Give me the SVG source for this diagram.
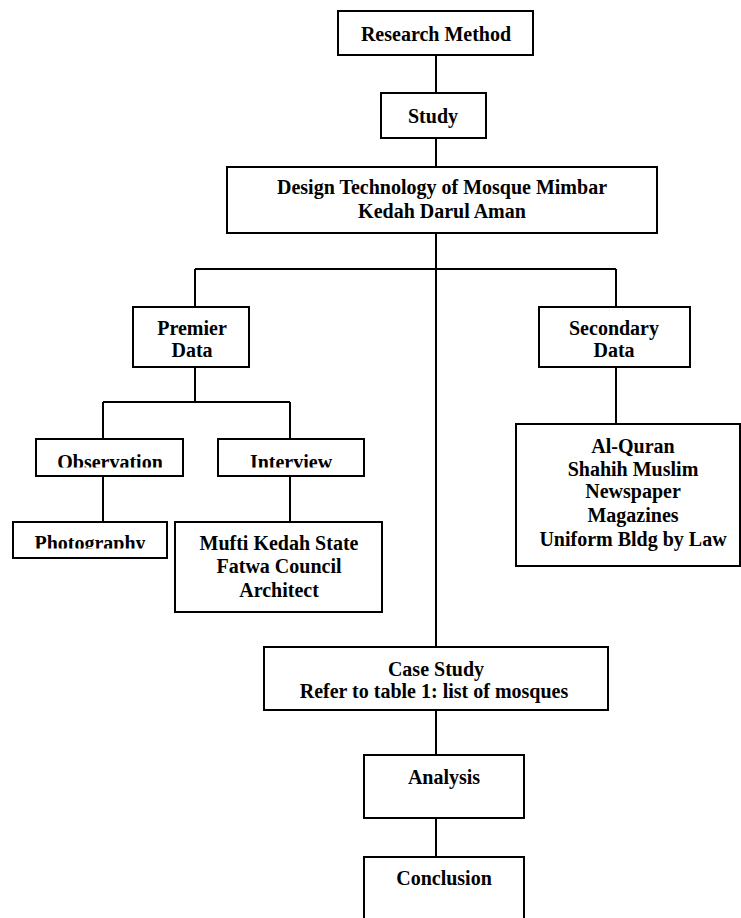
<svg xmlns="http://www.w3.org/2000/svg" width="741" height="918" viewBox="0 0 741 918">
<style>
.box{fill:#fff;stroke:#000;stroke-width:2}
.ln{fill:none;stroke:#000;stroke-width:2}
text{font-family:"Liberation Serif","Times New Roman",serif;font-weight:bold;font-size:20px;fill:#000;text-anchor:middle}
</style>
<defs>
<clipPath id="clipObs"><rect x="37" y="440" width="145" height="27.5"/></clipPath>
<clipPath id="clipInt"><rect x="219" y="440" width="144" height="27.5"/></clipPath>
<clipPath id="clipPho"><rect x="14" y="523" width="151" height="25.5"/></clipPath>
</defs>
<rect width="741" height="918" fill="#fff"/>
<g id="connectors">
<path class="ln" d="M436 55V93M436 138V167M436 233V647M195 269H616M195 269V307M616 269V307M195 367V402M103 402H290M103 402V439M290 402V439M103 476V522M290 476V522M616 367V424M436 710V755M436 818V857"/>
</g>
<g id="research-method"><rect class="box" x="338" y="11" width="195" height="44"/><text x="436" y="41">Research Method</text></g>
<g id="study"><rect class="box" x="381" y="93" width="105" height="45"/><text x="433" y="123">Study</text></g>
<g id="design"><rect class="box" x="227" y="167" width="430" height="66"/><text x="442" y="194">Design Technology of Mosque Mimbar</text><text x="442" y="218">Kedah Darul Aman</text></g>
<g id="premier"><rect class="box" x="133" y="307" width="116" height="60"/><text x="192" y="335">Premier</text><text x="192" y="357">Data</text></g>
<g id="secondary"><rect class="box" x="539" y="307" width="151" height="60"/><text x="614" y="335">Secondary</text><text x="614" y="357">Data</text></g>
<g id="observation"><rect class="box" x="36" y="439" width="147" height="37"/><text x="110" y="468.5" clip-path="url(#clipObs)">Observation</text></g>
<g id="interview"><rect class="box" x="218" y="439" width="146" height="37"/><text x="291" y="468.5" clip-path="url(#clipInt)">Interview</text></g>
<g id="photography"><rect class="box" x="13" y="522" width="154" height="36"/><text x="90" y="550" clip-path="url(#clipPho)">Photography</text></g>
<g id="mufti"><rect class="box" x="175" y="522" width="207" height="90"/><text x="279" y="550">Mufti Kedah State</text><text x="279" y="573">Fatwa Council</text><text x="279" y="597">Architect</text></g>
<g id="sources"><rect class="box" x="516" y="424" width="224" height="142"/><text x="633" y="453">Al-Quran</text><text x="633" y="476">Shahih Muslim</text><text x="633" y="498">Newspaper</text><text x="633" y="522">Magazines</text><text x="633" y="546">Uniform Bldg by Law</text></g>
<g id="case-study"><rect class="box" x="264" y="647" width="344" height="63"/><text x="436" y="676">Case Study</text><text x="434" y="698">Refer to table 1: list of  mosques</text></g>
<g id="analysis"><rect class="box" x="364" y="755" width="160" height="63"/><text x="444" y="784">Analysis</text></g>
<g id="conclusion"><rect class="box" x="364" y="857" width="160" height="70"/><text x="444" y="885">Conclusion</text></g>
</svg>
